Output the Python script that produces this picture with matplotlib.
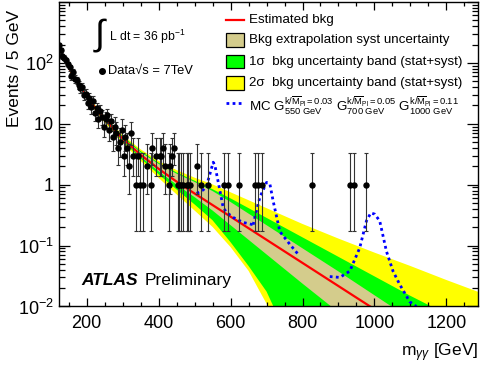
import numpy as np
import matplotlib
matplotlib.use("Agg")
import matplotlib.pyplot as plt
from matplotlib.patches import Rectangle
from matplotlib.lines import Line2D
from matplotlib.ticker import FixedLocator, LogLocator, NullFormatter, MultipleLocator

plt.rcParams['font.family'] = ['Liberation Sans', 'DejaVu Sans']
plt.rcParams['mathtext.fontset'] = 'custom'
plt.rcParams['mathtext.rm'] = 'Liberation Sans'
plt.rcParams['mathtext.it'] = 'Liberation Sans:italic'
plt.rcParams['mathtext.bf'] = 'Liberation Sans:bold'

# -----------------------------
# data
# -----------------------------
# observed counts per 5 GeV bin (bin centre, events)
data_mass = [122.5, 127.5, 132.5, 137.5, 142.5, 147.5, 152.5, 157.5, 162.5, 167.5,
             172.5, 177.5, 182.5, 187.5, 192.5, 197.5, 202.5, 207.5, 212.5, 217.5,
             222.5, 227.5, 232.5, 237.5, 242.5, 247.5, 252.5, 257.5, 262.5, 267.5,
             272.5, 277.5, 282.5, 287.5, 292.5, 297.5, 302.5, 307.5, 312.5, 317.5,
             322.5, 327.5, 337.5, 342.5, 347.5, 357.5, 367.5, 377.5, 382.5, 392.5,
             402.5, 407.5, 412.5, 417.5, 427.5, 432.5, 437.5, 442.5, 452.5, 457.5,
             462.5, 467.5, 477.5, 482.5, 487.5, 507.5, 517.5, 537.5, 582.5, 592.5,
             622.5, 667.5, 677.5, 687.5, 827.5, 932.5, 942.5, 977.5]
data_counts = [200, 160, 128, 122, 110, 95, 84, 60, 70, 55,
               52, 44, 38, 40, 30, 31, 22, 27, 19, 24,
               15, 18, 12, 16, 13, 9, 12, 14, 8, 11,
               6, 9, 7, 4, 5, 8, 3, 6, 4, 2,
               7, 3, 1, 3, 1, 1, 2, 1, 4, 3,
               3, 3, 4, 2, 1, 2, 3, 4, 1, 1,
               1, 1, 1, 1, 1, 2, 1, 1, 1, 1,
               1, 1, 1, 1, 1, 1, 1, 1]

# 68% Poisson interval (low, high) for small counts
poisson_lo = [0.0, 0.173, 0.708, 1.367, 2.086, 2.840, 3.620, 4.419, 5.232, 6.057, 6.891]
poisson_hi = [1.841, 3.300, 4.638, 5.918, 7.163, 8.382, 9.584, 10.77, 11.95, 13.11, 14.27]

# background estimate, log10(events) on a mass grid
grid_mass = [120, 140, 160, 180, 200, 225, 250, 300, 350, 400, 450, 500, 550,
             600, 650, 700, 750, 800, 900, 1000, 1100, 1200, 1300]
bkg_log = [2.28, 2.04, 1.82, 1.63, 1.45, 1.25, 1.07, 0.755, 0.49, 0.26, 0.05, -0.145, -0.335,
           -0.525, -0.715, -0.905, -1.095, -1.285, -1.665, -2.045, -2.425, -2.805, -3.185]
# band edges, offset from the background in decades
syst_up = [0.01, 0.01, 0.01, 0.01, 0.01, 0.01, 0.01, 0.02, 0.04, 0.08, 0.13, 0.19, 0.23,
           0.24, 0.24, 0.24, 0.24, 0.24, 0.24, 0.23, 0.22, 0.22, 0.22]
syst_dn = [-0.01, -0.01, -0.01, -0.01, -0.01, -0.01, -0.01, -0.02, -0.03, -0.04, -0.05, -0.06, -0.09,
           -0.14, -0.19, -0.24, -0.29, -0.34, -0.43, -0.53, -0.64, -0.76, -0.9]
one_up = [0.025, 0.025, 0.025, 0.025, 0.025, 0.03, 0.03, 0.04, 0.06, 0.10, 0.15, 0.21, 0.26,
          0.30, 0.33, 0.36, 0.39, 0.42, 0.48, 0.54, 0.60, 0.68, 0.76]
one_dn = [-0.025, -0.025, -0.025, -0.025, -0.025, -0.03, -0.03, -0.04, -0.06, -0.09, -0.13, -0.18, -0.25,
          -0.42, -0.62, -0.85, -1.3, -2.5, -3, -3, -3, -3, -3]
two_up = [0.04, 0.04, 0.04, 0.04, 0.04, 0.045, 0.05, 0.06, 0.09, 0.13, 0.19, 0.26, 0.34,
          0.40, 0.46, 0.52, 0.58, 0.64, 0.78, 0.93, 1.09, 1.24, 1.40]
two_dn = [-0.04, -0.04, -0.04, -0.04, -0.04, -0.045, -0.05, -0.07, -0.10, -0.15, -0.21, -0.28, -0.36,
          -0.50, -0.70, -1.05, -1.5, -2.5, -3, -3, -3, -3, -3]

# MC graviton signal + background curves
sig550_mass = [505.6, 523.9, 533.3, 542.5, 551.7, 556.4, 561.1, 570.3, 579.4, 588.9, 607.2, 635.0, 662.8]
sig550_val = [0.72, 0.82, 0.96, 1.50, 2.34, 2.06, 1.50, 0.80, 0.42, 0.35, 0.29, 0.24, 0.22]
sig700_mass = [662.8, 667.5, 681.4, 700.0, 709.2, 718.3, 737.0, 764.7, 787.8]
sig700_val = [0.22, 0.29, 0.62, 1.09, 1.03, 0.54, 0.17, 0.105, 0.072]
sig1000_mass = [875.8, 903.6, 931.4, 959.2, 977.8, 990.0, 1000.9, 1014.7, 1033.3, 1051.7, 1070.3,
                1098.0, 1116.7]
sig1000_val = [0.031, 0.030, 0.038, 0.092, 0.254, 0.344, 0.328, 0.254, 0.081, 0.038, 0.023,
               0.012, 0.010]

# -----------------------------
# plot
# -----------------------------
fig = plt.figure(figsize=(4.82, 3.67), dpi=100)
ax = fig.add_axes([0.1214, 0.1649, 0.8703, 0.8297])

m = np.array(grid_mass, dtype=float)
b = np.array(bkg_log)

def edge(off):
    return 10 ** (b + np.array(off))

ax.fill_between(m, edge(two_dn), edge(two_up), color='#ffff00', lw=0)
ax.fill_between(m, edge(one_dn), edge(one_up), color='#00ff00', lw=0)
ax.fill_between(m, edge(syst_dn), edge(syst_up), color='#d4cc8c', lw=0)
ax.plot(m, 10 ** b, color='#ff0000', lw=1.6)

for sm, sv in [(sig550_mass, sig550_val), (sig700_mass, sig700_val), (sig1000_mass, sig1000_val)]:
    ax.plot(sm, sv, color='#0000ff', lw=2.0, ls=(0, (1, 1.2)))

# data with poisson errors
n = np.array(data_counts, dtype=float)
lo = np.array([n_i - poisson_lo[int(n_i)] if n_i <= 10 else np.sqrt(n_i) for n_i in n])
hi = np.array([poisson_hi[int(n_i)] - n_i if n_i <= 10 else np.sqrt(n_i) for n_i in n])
ax.errorbar(data_mass, n, yerr=[lo, hi], fmt='o', color='black', ecolor='#333333',
            ms=3.6, elinewidth=0.8, capsize=1.5, capthick=0.8)

ax.set_yscale('log')
ax.set_xlim(121.5, 1288)
ax.set_ylim(0.01, 1000)

ax.yaxis.set_major_locator(FixedLocator([0.01, 0.1, 1, 10, 100, 1000]))
ax.yaxis.set_minor_locator(LogLocator(base=10, subs=np.arange(2, 10)))
ax.yaxis.set_minor_formatter(NullFormatter())
ax.set_yticklabels([r'$10^{-2}$', r'$10^{-1}$', '1', '10', r'$10^{2}$', ''])
ax.xaxis.set_major_locator(MultipleLocator(200))
ax.xaxis.set_minor_locator(MultipleLocator(50))

ax.tick_params(which='both', direction='in', top=True, right=True, labelsize=13, width=0.9)
ax.tick_params(axis='y', which='major', length=8)
ax.tick_params(axis='y', which='minor', length=4.5)
ax.tick_params(axis='x', which='major', length=6)
ax.tick_params(axis='x', which='minor', length=3)
ax.tick_params(axis='x', pad=6)
for s in ax.spines.values():
    s.set_linewidth(1.0)

ax.set_ylabel('Events / 5 GeV', fontsize=12.5, loc='top')
ax.yaxis.set_label_coords(-0.087, 0.975)
ax.set_xlabel(r'm$_{\gamma\gamma}$ [GeV]', fontsize=12.5, loc='right', labelpad=7)

# luminosity and data labels
ax.text(0.097, 0.89, '\u222b', transform=ax.transAxes, fontsize=26, family='Liberation Sans',
        ha='center', va='center')
ax.text(0.12, 0.885, r'L dt = 36 pb$^{-1}$', transform=ax.transAxes, fontsize=8.8,
        ha='left', va='center')
ax.plot([0.104], [0.773], 'o', color='black', ms=4, transform=ax.transAxes)
ax.text(0.117, 0.773, 'Data\u221as = 7TeV', transform=ax.transAxes, fontsize=9.3,
        ha='left', va='center')

ax.text(0.055, 0.085, 'ATLAS', transform=ax.transAxes, fontsize=12.5, fontweight='bold',
        fontstyle='italic', ha='left', va='center')
ax.text(0.205, 0.085, 'Preliminary', transform=ax.transAxes, fontsize=12.5,
        ha='left', va='center')

# legend drawn by hand
lx0, lx1, tx = 0.4, 0.443, 0.455
rows = [0.941, 0.875, 0.804, 0.734, 0.668]
ax.add_line(Line2D([lx0, lx1], [rows[0], rows[0]], color='#ff0000', lw=1.6, transform=ax.transAxes))
for y, c in zip(rows[1:4], ['#d4cc8c', '#00ff00', '#ffff00']):
    ax.add_patch(Rectangle((lx0, y - 0.022), lx1 - lx0, 0.044, facecolor=c, edgecolor='black',
                           lw=0.9, transform=ax.transAxes))
ax.add_line(Line2D([lx0, lx1], [rows[4], rows[4]], color='#0000ff', lw=2.0, ls=(0, (1, 1.2)),
                   transform=ax.transAxes))
labels = ['Estimated bkg', 'Bkg extrapolation syst uncertainty',
          '1\u03c3  bkg uncertainty band (stat+syst)', '2\u03c3  bkg uncertainty band (stat+syst)']
for y, t in zip(rows[:4], labels):
    ax.text(tx, y, t, transform=ax.transAxes, fontsize=9.6, ha='left', va='center')
sig_label = (r'MC G$^{\mathrm{k}/\overline{\mathrm{M}}_{\mathrm{Pl}}=0.03}_{\mathrm{550\ GeV}}$ '
             r'G$^{\mathrm{k}/\overline{\mathrm{M}}_{\mathrm{Pl}}=0.05}_{\mathrm{700\ GeV}}$ '
             r'G$^{\mathrm{k}/\overline{\mathrm{M}}_{\mathrm{Pl}}=0.11}_{\mathrm{1000\ GeV}}$')
ax.text(tx, rows[4] - 0.01, sig_label, transform=ax.transAxes, fontsize=9.6, ha='left', va='center')

fig.savefig('out.png', dpi=100)
